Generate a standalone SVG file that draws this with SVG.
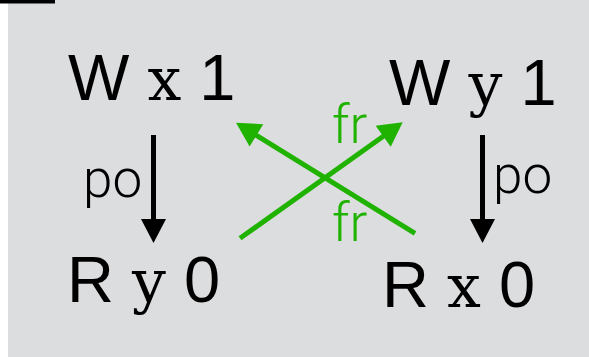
<svg xmlns="http://www.w3.org/2000/svg" width="589" height="357" viewBox="0 0 589 357">
  <style>
    .node { font-family: "Liberation Sans", Arial, sans-serif; font-size: 65px; fill: #000; }
    .mono { font-family: "DejaVu Serif", "Liberation Mono", serif; font-size: 60px; }
    .lbl { font-family: Roboto, "Liberation Sans", sans-serif; font-weight: 300; font-size: 53px; }
    .po { fill: #000; }
    .fr { fill: #1fb300; }
    .blk { stroke: #000; stroke-width: 5; fill: none; marker-end: url(#hb); }
    .grn { stroke: #1fb300; stroke-width: 5; fill: none; marker-end: url(#hg); }
  </style>
  <defs>
    <marker id="hb" markerUnits="userSpaceOnUse" markerWidth="26" markerHeight="26" refX="1" refY="12.5" orient="auto" overflow="visible">
      <path d="M0,0 L24,12.5 L0,25 Z" fill="#000"/>
    </marker>
    <marker id="hg" markerUnits="userSpaceOnUse" markerWidth="26" markerHeight="26" refX="1" refY="13" orient="auto" overflow="visible">
      <path d="M0,0 L24,13 L0,26 Z" fill="#1fb300"/>
    </marker>
  </defs>
  <rect x="0" y="0" width="589" height="357" fill="#ffffff"/>
  <rect x="8" y="0" width="581" height="357" fill="#dcdddf"/>
  <rect x="0" y="0" width="55" height="3.5" fill="#000"/>

  <g id="connectors">
    <line class="blk" x1="153.5" y1="135" x2="153.5" y2="220"/>
    <line class="blk" x1="482.5" y1="135" x2="482.5" y2="220"/>
    <line class="grn" x1="240" y1="238.3" x2="384" y2="135.7"/>
    <line class="grn" x1="415" y1="233.3" x2="255.6" y2="134.8"/>
    <text class="lbl po" x="83" y="197">po</text>
    <text class="lbl po" x="493" y="193">po</text>
    <text class="lbl fr" x="332" y="143">fr</text>
    <text class="lbl fr" x="332" y="241">fr</text>
  </g>

  <g id="n_wx1"><text class="node" x="68" y="100">W <tspan class="mono">x</tspan> 1</text></g>
  <g id="n_wy1"><text class="node" x="389" y="105">W <tspan class="mono">y</tspan> 1</text></g>
  <g id="n_ry0"><text class="node" x="67" y="302">R <tspan class="mono">y</tspan> 0</text></g>
  <g id="n_rx0"><text class="node" x="382" y="307">R <tspan class="mono">x</tspan> 0</text></g>
</svg>
